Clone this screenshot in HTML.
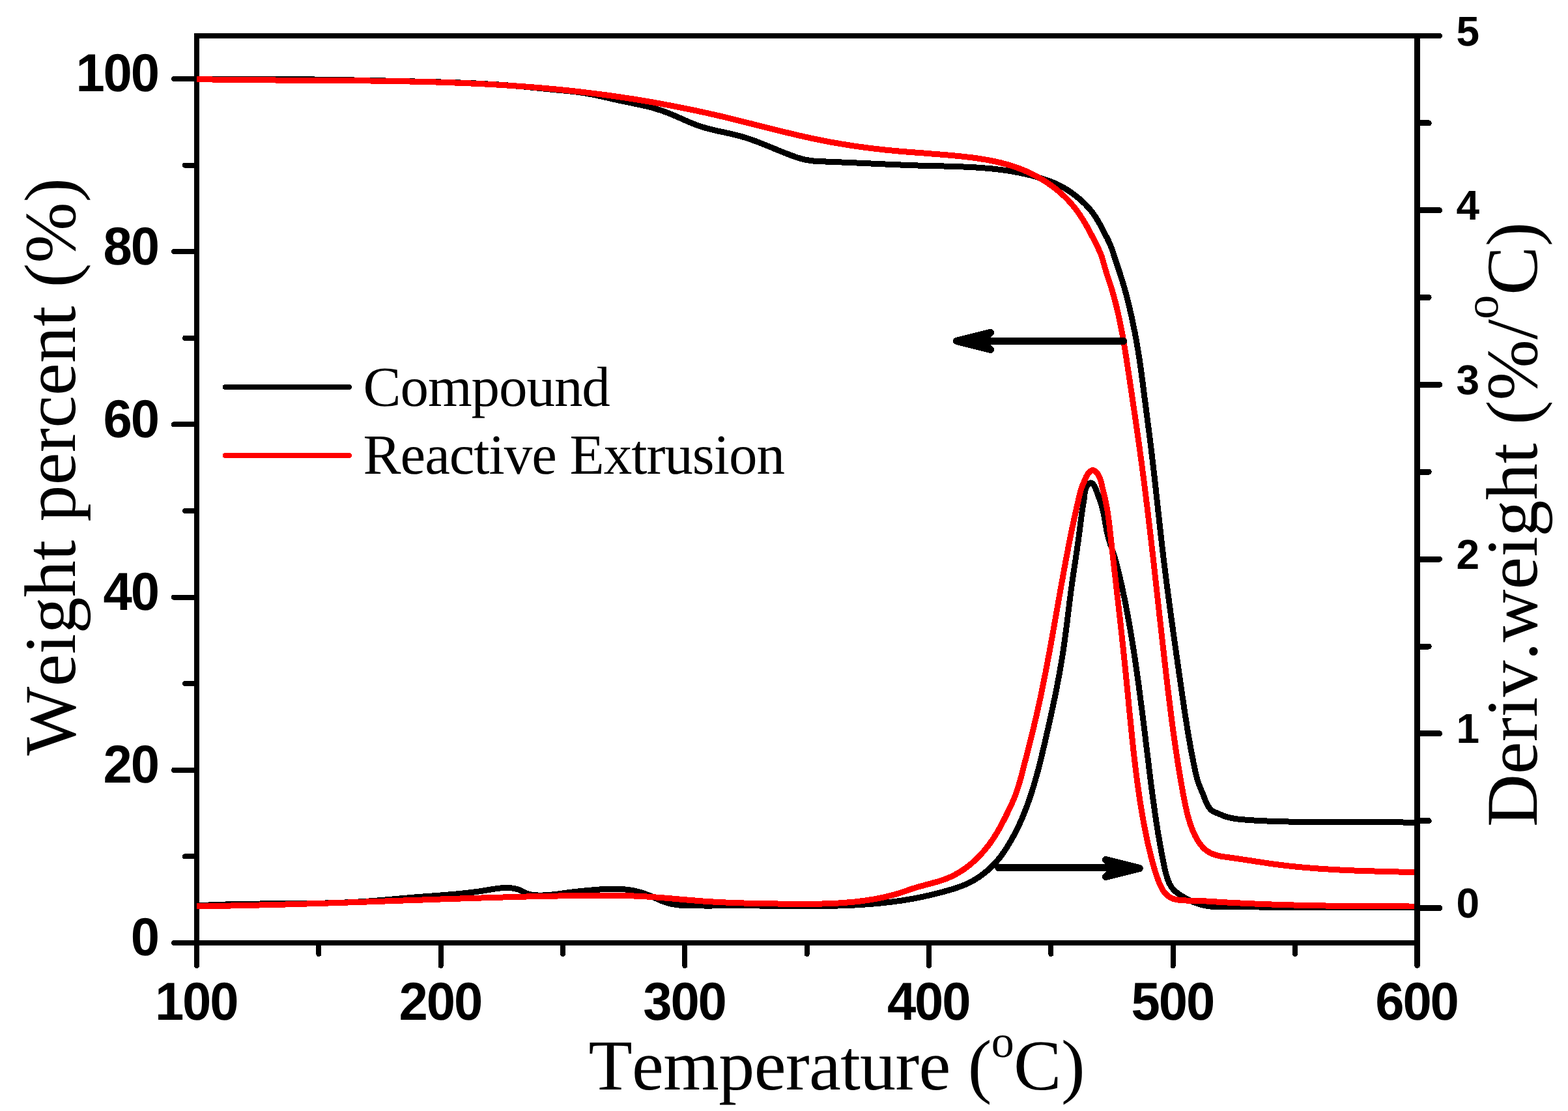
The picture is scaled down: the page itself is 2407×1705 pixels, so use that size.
<!DOCTYPE html>
<html lang="en"><head><meta charset="utf-8"><title>TGA / DTG curves</title>
<style>html,body{margin:0;padding:0;background:#fff}body{width:2407px;height:1705px;overflow:hidden}svg{display:block}text{font-kerning:none;font-variant-ligatures:none;text-rendering:geometricPrecision}.tk{font-family:"Liberation Sans",sans-serif;font-weight:bold;fill:#000}.ti{font-family:"Liberation Serif",serif;fill:#000}</style></head><body>
<svg width="2407" height="1705" viewBox="0 0 2407 1705">
<rect width="2407" height="1705" fill="#fff"/>
<g stroke="#000" stroke-width="8.0" stroke-linecap="round" fill="none" shape-rendering="crispEdges">
<path stroke-linecap="butt" d="M298.0,55.0 H2180.0"/>
<path stroke-linecap="butt" d="M298.0,1447.0 H2180.0"/>
<path stroke-linecap="butt" d="M302.0,55.0 V1447.0"/>
<path d="M302.0,1447.0 V1482.0"/>
<path d="M489.3,1447.0 V1464.0"/>
<path d="M676.7,1447.0 V1482.0"/>
<path d="M864.0,1447.0 V1464.0"/>
<path d="M1051.3,1447.0 V1482.0"/>
<path d="M1238.7,1447.0 V1464.0"/>
<path d="M1426.0,1447.0 V1482.0"/>
<path d="M1613.3,1447.0 V1464.0"/>
<path d="M1800.6,1447.0 V1482.0"/>
<path d="M1988.0,1447.0 V1464.0"/>
<path d="M302.0,1447.0 H267.0"/>
<path d="M302.0,1314.4 H284.0"/>
<path d="M302.0,1181.8 H267.0"/>
<path d="M302.0,1049.2 H284.0"/>
<path d="M302.0,916.6 H267.0"/>
<path d="M302.0,784.0 H284.0"/>
<path d="M302.0,651.4 H267.0"/>
<path d="M302.0,518.8 H284.0"/>
<path d="M302.0,386.2 H267.0"/>
<path d="M302.0,253.6 H284.0"/>
<path d="M302.0,121.0 H267.0"/>
</g>
<g stroke="#000" stroke-width="9.0" stroke-linecap="round" fill="none" shape-rendering="crispEdges">
<path stroke-linecap="butt" d="M2175.5,51.0 V1447.0"/>
<path d="M2175.5,1447.0 V1481.5"/>
<path d="M2175.5,1393.5 H2209.6"/>
<path d="M2175.5,1259.7 H2193.2"/>
<path d="M2175.5,1125.8 H2209.6"/>
<path d="M2175.5,992.0 H2193.2"/>
<path d="M2175.5,858.1 H2209.6"/>
<path d="M2175.5,724.2 H2193.2"/>
<path d="M2175.5,590.4 H2209.6"/>
<path d="M2175.5,456.5 H2193.2"/>
<path d="M2175.5,322.7 H2209.6"/>
<path d="M2175.5,188.8 H2193.2"/>
<path stroke-width="8.0" d="M2175.5,55.0 H2210.1"/>
</g>
<clipPath id="clip"><rect x="302.0" y="55.0" width="1869.0" height="1392.0"/></clipPath>
<g clip-path="url(#clip)" fill="none" stroke-width="9.0" stroke-linejoin="round" stroke-linecap="butt" shape-rendering="crispEdges">
<path stroke="#000" d="M302.0,121.5C306.0,121.5 310.1,121.4 314.1,121.4C318.1,121.3 322.1,121.3 326.2,121.3C330.2,121.3 334.2,121.2 338.3,121.2C342.3,121.2 346.3,121.2 350.4,121.2C354.4,121.1 358.4,121.1 362.4,121.1C366.5,121.1 370.5,121.1 374.5,121.1C378.6,121.1 382.6,121.1 386.6,121.2C390.6,121.2 394.7,121.2 398.7,121.2C402.7,121.2 406.8,121.2 410.8,121.2C414.8,121.3 418.8,121.3 422.9,121.3C426.9,121.4 430.9,121.4 434.9,121.4C439.0,121.5 443.0,121.5 447.0,121.5C451.1,121.6 455.1,121.6 459.1,121.7C463.1,121.7 467.2,121.8 471.2,121.8C475.2,121.9 479.3,121.9 483.3,122.0C487.3,122.0 491.3,122.1 495.4,122.1C499.4,122.2 503.4,122.3 507.5,122.3C511.5,122.4 515.5,122.5 519.5,122.5C523.6,122.6 527.6,122.7 531.6,122.7C535.6,122.8 539.7,122.9 543.7,123.0C547.7,123.1 551.8,123.1 555.8,123.2C559.8,123.3 563.8,123.4 567.9,123.5C571.9,123.5 575.9,123.6 579.9,123.7C584.0,123.8 588.0,123.9 592.0,124.0C596.1,124.1 600.1,124.2 604.1,124.2C608.1,124.3 612.2,124.4 616.2,124.5C620.2,124.6 624.2,124.7 628.3,124.8C632.3,124.9 636.3,125.0 640.4,125.1C644.4,125.2 648.4,125.3 652.5,125.4C656.5,125.5 660.5,125.6 664.5,125.7C668.6,125.8 672.6,125.9 676.6,126.0C680.6,126.2 684.7,126.3 688.7,126.4C692.7,126.5 696.8,126.7 700.8,126.8C704.8,126.9 708.8,127.1 712.9,127.2C716.9,127.4 720.9,127.6 724.9,127.7C729.0,127.9 733.0,128.1 737.0,128.3C741.0,128.5 745.0,128.7 749.1,129.0C753.1,129.2 757.1,129.4 761.1,129.7C765.1,129.9 769.2,130.2 773.2,130.5C777.2,130.8 781.2,131.1 785.2,131.4C789.2,131.7 793.3,132.1 797.3,132.4C801.3,132.8 805.3,133.1 809.3,133.5C813.3,133.9 817.3,134.3 821.3,134.7C825.3,135.1 829.4,135.5 833.4,135.9C837.4,136.3 841.4,136.7 845.4,137.1C849.4,137.5 853.4,137.9 857.4,138.3C861.5,138.6 865.5,139.0 869.5,139.4C873.5,139.8 877.5,140.2 881.5,140.7C885.5,141.2 889.5,141.7 893.5,142.3C897.5,142.9 901.4,143.5 905.4,144.3C909.3,145.0 913.3,145.8 917.2,146.7C921.2,147.5 925.1,148.4 929.0,149.3C932.9,150.2 936.9,151.1 940.8,152.0C944.7,152.9 948.7,153.8 952.6,154.7C956.6,155.5 960.5,156.3 964.5,157.1C968.4,157.9 972.4,158.7 976.3,159.5C980.3,160.3 984.2,161.2 988.1,162.1C992.1,163.0 996.0,163.9 999.9,164.9C1003.7,166.0 1007.6,167.1 1011.4,168.4C1015.3,169.6 1019.1,170.9 1022.9,172.4C1026.6,173.8 1030.4,175.3 1034.1,176.9C1037.8,178.5 1041.5,180.1 1045.1,181.7C1048.8,183.4 1052.5,185.0 1056.2,186.6C1059.9,188.2 1063.6,189.7 1067.4,191.2C1071.2,192.6 1075.0,193.9 1078.8,195.1C1082.7,196.3 1086.6,197.4 1090.5,198.3C1094.4,199.3 1098.3,200.2 1102.2,201.1C1106.2,202.0 1110.1,202.8 1114.1,203.6C1118.0,204.5 1121.9,205.3 1125.8,206.3C1129.8,207.2 1133.7,208.2 1137.6,209.3C1141.4,210.4 1145.3,211.6 1149.1,212.9C1152.9,214.2 1156.7,215.5 1160.5,216.9C1164.3,218.3 1168.0,219.8 1171.8,221.3C1175.5,222.8 1179.2,224.3 1183.0,225.8C1184.6,226.5 1186.2,227.2 1187.8,227.8C1189.9,228.7 1192.0,229.6 1194.1,230.4C1197.4,231.8 1200.7,233.1 1204.1,234.5C1206.8,235.5 1209.5,236.6 1212.3,237.6C1213.7,238.2 1215.2,238.7 1216.7,239.3C1218.0,239.7 1219.3,240.2 1220.6,240.7C1223.1,241.5 1225.6,242.4 1228.2,243.1C1231.3,244.0 1234.4,244.8 1237.5,245.4C1241.1,246.1 1244.8,246.6 1248.5,247.0C1249.6,247.1 1250.7,247.2 1251.9,247.3C1253.7,247.4 1255.5,247.5 1257.3,247.6C1259.6,247.7 1261.8,247.8 1264.0,247.9C1268.0,248.0 1272.0,248.2 1276.1,248.4C1280.1,248.5 1284.2,248.7 1288.2,248.9C1289.3,248.9 1290.5,249.0 1291.6,249.0C1294.5,249.1 1297.4,249.3 1300.3,249.4C1301.9,249.5 1303.6,249.5 1305.2,249.6C1307.6,249.7 1310.0,249.8 1312.4,249.9C1314.5,250.0 1316.6,250.1 1318.8,250.2C1320.6,250.3 1322.5,250.4 1324.4,250.5C1328.4,250.7 1332.5,250.8 1336.5,251.0C1340.5,251.2 1344.5,251.4 1348.5,251.6C1352.6,251.7 1356.6,251.9 1360.6,252.1C1364.6,252.3 1368.6,252.4 1372.7,252.6C1376.7,252.8 1380.7,252.9 1384.7,253.1C1388.7,253.2 1392.8,253.4 1396.8,253.5C1400.8,253.7 1404.8,253.8 1408.8,254.0C1412.9,254.1 1416.9,254.2 1420.9,254.3C1425.0,254.4 1429.0,254.5 1433.0,254.6C1437.0,254.7 1441.1,254.8 1445.1,254.9C1449.1,255.0 1453.2,255.1 1457.2,255.2C1461.2,255.4 1465.3,255.5 1469.3,255.6C1473.3,255.8 1477.4,255.9 1481.4,256.1C1485.4,256.3 1489.4,256.5 1493.5,256.7C1497.5,256.9 1501.5,257.2 1505.5,257.5C1509.6,257.8 1513.6,258.1 1517.6,258.5C1521.6,258.8 1525.6,259.2 1529.6,259.7C1533.6,260.2 1537.6,260.7 1541.6,261.2C1545.6,261.8 1549.6,262.4 1553.5,263.1C1557.5,263.7 1561.4,264.5 1565.4,265.3C1569.3,266.1 1573.3,266.9 1577.2,267.8C1579.1,268.3 1581.0,268.8 1582.9,269.2C1584.9,269.8 1586.9,270.3 1588.9,270.8C1591.9,271.7 1594.9,272.5 1597.9,273.5C1600.3,274.2 1602.8,275.0 1605.3,275.9C1606.6,276.3 1607.9,276.8 1609.1,277.2C1610.3,277.6 1611.4,278.1 1612.6,278.5C1614.4,279.2 1616.3,280.0 1618.1,280.7C1619.8,281.4 1621.4,282.2 1623.1,283.0C1624.3,283.5 1625.6,284.1 1626.8,284.8C1629.1,286.0 1631.5,287.2 1633.8,288.6C1636.5,290.2 1639.3,291.9 1641.9,293.8C1644.3,295.4 1646.7,297.1 1649.1,298.9C1650.6,300.1 1652.1,301.2 1653.6,302.4C1654.4,303.1 1655.2,303.8 1656.0,304.4C1657.6,305.8 1659.2,307.2 1660.7,308.6C1662.3,310.0 1663.9,311.5 1665.4,313.0C1666.6,314.2 1667.7,315.4 1668.9,316.6C1669.6,317.4 1670.4,318.2 1671.2,319.1C1672.1,320.2 1673.1,321.3 1674.1,322.5C1675.4,324.1 1676.7,325.8 1678.0,327.5C1680.6,331.1 1683.0,334.8 1685.2,338.6C1687.3,342.1 1689.2,345.6 1691.1,349.2C1693.0,352.8 1694.9,356.4 1696.7,360.0C1698.6,363.5 1700.4,367.1 1702.1,370.8C1703.9,374.4 1705.4,378.1 1706.8,381.9C1708.1,385.7 1709.3,389.6 1710.5,393.4C1711.8,397.2 1713.0,401.0 1714.3,404.9C1715.6,408.7 1716.8,412.5 1718.1,416.3C1719.3,420.2 1720.6,424.0 1721.8,427.8C1723.0,431.7 1724.2,435.5 1725.3,439.4C1726.4,443.3 1727.5,447.1 1728.6,451.0C1729.6,454.9 1730.6,458.8 1731.6,462.7C1732.6,466.6 1733.5,470.6 1734.4,474.5C1735.3,478.4 1736.2,482.3 1737.1,486.3C1738.0,490.2 1738.8,494.2 1739.6,498.1C1740.4,502.0 1741.2,506.0 1742.0,509.9C1742.8,513.9 1743.5,517.9 1744.2,521.8C1744.9,525.8 1745.6,529.7 1746.3,533.7C1747.0,537.7 1747.6,541.7 1748.2,545.6C1748.9,549.6 1749.5,553.6 1750.0,557.6C1750.6,561.6 1751.2,565.6 1751.7,569.5C1752.3,573.5 1752.8,577.5 1753.3,581.5C1753.9,585.5 1754.4,589.5 1754.9,593.5C1755.4,597.5 1755.9,601.5 1756.4,605.5C1756.9,609.5 1757.4,613.5 1758.0,617.5C1758.5,621.5 1759.0,625.5 1759.5,629.5C1760.0,633.5 1760.6,637.5 1761.1,641.5C1761.6,645.5 1762.1,649.5 1762.6,653.5C1763.2,657.5 1763.7,661.4 1764.2,665.4C1764.7,669.4 1765.2,673.4 1765.7,677.4C1766.2,681.4 1766.7,685.4 1767.2,689.4C1767.7,693.4 1768.1,697.4 1768.6,701.4C1769.1,705.4 1769.6,709.4 1770.0,713.4C1770.5,717.4 1770.9,721.4 1771.4,725.4C1771.9,729.4 1772.3,733.4 1772.8,737.4C1773.2,741.4 1773.6,745.4 1774.1,749.4C1774.5,753.4 1775.0,757.5 1775.4,761.5C1775.8,765.5 1776.3,769.5 1776.7,773.5C1777.2,777.5 1777.6,781.5 1778.0,785.5C1778.5,789.5 1778.9,793.5 1779.4,797.5C1779.8,801.5 1780.2,805.5 1780.7,809.5C1781.1,813.5 1781.6,817.5 1782.0,821.5C1782.5,825.5 1782.9,829.5 1783.4,833.5C1783.9,837.5 1784.3,841.5 1784.8,845.5C1785.3,849.5 1785.7,853.5 1786.2,857.5C1786.7,861.5 1787.2,865.5 1787.7,869.5C1788.2,873.5 1788.7,877.5 1789.2,881.5C1789.7,885.5 1790.2,889.5 1790.7,893.5C1791.2,897.5 1791.7,901.5 1792.3,905.5C1792.8,909.5 1793.3,913.5 1793.9,917.5C1794.4,921.5 1794.9,925.5 1795.5,929.5C1796.0,933.5 1796.5,937.5 1797.1,941.5C1797.6,945.5 1798.2,949.5 1798.7,953.4C1799.3,957.4 1799.8,961.4 1800.4,965.4C1800.9,969.4 1801.5,973.4 1802.1,977.4C1802.6,981.4 1803.2,985.4 1803.8,989.4C1804.3,993.4 1804.9,997.3 1805.5,1001.3C1806.0,1005.3 1806.6,1009.3 1807.2,1013.3C1807.7,1017.3 1808.3,1021.3 1808.9,1025.3C1809.4,1029.2 1810.0,1033.2 1810.6,1037.2C1811.2,1041.2 1811.7,1045.2 1812.3,1049.2C1812.9,1053.1 1813.5,1057.1 1814.0,1061.1C1814.6,1065.1 1815.2,1069.1 1815.8,1073.0C1816.4,1077.0 1816.9,1081.0 1817.5,1085.0C1818.1,1089.0 1818.7,1092.9 1819.3,1096.9C1820.0,1100.9 1820.6,1104.9 1821.2,1108.8C1821.8,1112.8 1822.5,1116.8 1823.1,1120.8C1823.8,1124.7 1824.4,1128.7 1825.1,1132.7C1825.8,1136.6 1826.5,1140.6 1827.2,1144.6C1827.9,1148.5 1828.6,1152.5 1829.4,1156.5C1830.1,1160.5 1830.9,1164.4 1831.7,1168.4C1832.3,1171.7 1833.0,1174.9 1833.7,1178.2C1834.2,1180.6 1834.7,1183.1 1835.3,1185.6C1835.7,1187.7 1836.2,1189.8 1836.8,1191.8C1837.5,1194.6 1838.3,1197.4 1839.2,1200.1C1839.5,1201.0 1839.8,1202.0 1840.2,1203.0C1840.7,1204.3 1841.2,1205.7 1841.8,1207.1C1842.5,1208.9 1843.3,1210.8 1844.1,1212.7C1844.8,1214.3 1845.5,1215.9 1846.2,1217.5C1846.6,1218.7 1847.1,1219.8 1847.5,1220.9C1847.9,1221.9 1848.3,1222.9 1848.7,1223.9C1849.1,1224.9 1849.4,1225.9 1849.8,1226.9C1850.2,1227.9 1850.6,1228.9 1851.0,1229.8C1851.4,1230.8 1851.8,1231.8 1852.2,1232.7C1852.7,1233.7 1853.2,1234.6 1853.7,1235.6C1854.2,1236.5 1854.7,1237.4 1855.3,1238.2C1856.0,1239.3 1856.7,1240.3 1857.5,1241.2C1858.3,1242.1 1859.2,1243.0 1860.1,1243.7C1860.9,1244.4 1861.8,1245.0 1862.7,1245.5C1863.6,1246.0 1864.5,1246.5 1865.5,1246.8C1866.7,1247.3 1868.0,1247.7 1869.3,1248.2C1870.3,1248.6 1871.3,1249.1 1872.3,1249.5C1873.4,1249.9 1874.4,1250.4 1875.4,1250.8C1876.4,1251.3 1877.4,1251.7 1878.5,1252.1C1879.5,1252.5 1880.5,1252.8 1881.6,1253.2C1882.6,1253.5 1883.6,1253.8 1884.7,1254.1C1885.7,1254.4 1886.8,1254.7 1887.9,1254.9C1890.2,1255.5 1892.5,1255.9 1894.9,1256.3C1896.3,1256.5 1897.7,1256.7 1899.2,1256.9C1901.8,1257.2 1904.5,1257.5 1907.2,1257.7C1908.4,1257.8 1909.5,1257.9 1910.7,1258.0C1914.2,1258.3 1917.7,1258.5 1921.2,1258.8C1925.3,1259.0 1929.3,1259.3 1933.3,1259.5C1937.3,1259.7 1941.4,1259.9 1945.4,1260.0C1949.3,1260.2 1953.1,1260.4 1957.0,1260.5C1961.2,1260.6 1965.4,1260.7 1969.6,1260.9C1973.6,1260.9 1977.6,1261.0 1981.6,1261.1C1985.7,1261.2 1989.7,1261.2 1993.7,1261.3C1997.8,1261.3 2001.8,1261.4 2005.8,1261.4C2009.8,1261.4 2013.9,1261.4 2017.9,1261.4C2021.9,1261.4 2026.0,1261.4 2030.0,1261.4C2034.0,1261.4 2038.0,1261.4 2042.1,1261.4C2046.1,1261.4 2050.1,1261.4 2054.2,1261.4C2058.2,1261.3 2062.2,1261.3 2066.2,1261.3C2070.3,1261.3 2074.3,1261.3 2078.3,1261.3C2082.4,1261.3 2086.4,1261.3 2090.4,1261.3C2094.4,1261.3 2098.5,1261.3 2102.5,1261.3C2106.5,1261.3 2110.6,1261.3 2114.6,1261.3C2118.6,1261.4 2122.6,1261.4 2126.7,1261.5C2130.7,1261.5 2134.7,1261.6 2138.8,1261.7C2142.8,1261.7 2146.8,1261.8 2150.8,1261.9C2154.9,1262.0 2158.9,1262.2 2162.9,1262.3C2166.9,1262.5 2171.0,1262.6 2175.0,1262.8"/>
<path stroke="#000" d="M302.0,1390.0C306.0,1389.7 310.0,1389.5 314.1,1389.3C318.1,1389.1 322.1,1388.9 326.1,1388.7C330.2,1388.5 334.2,1388.4 338.2,1388.2C342.2,1388.1 346.3,1388.0 350.3,1387.9C354.3,1387.8 358.4,1387.7 362.4,1387.6C366.4,1387.5 370.4,1387.4 374.5,1387.3C378.5,1387.3 382.5,1387.2 386.6,1387.2C390.6,1387.1 394.6,1387.1 398.7,1387.0C402.7,1387.0 406.7,1387.0 410.7,1386.9C414.8,1386.9 418.8,1386.9 422.8,1386.8C426.9,1386.8 430.9,1386.8 434.9,1386.8C439.0,1386.7 443.0,1386.7 447.0,1386.7C451.1,1386.7 455.1,1386.6 459.1,1386.6C463.2,1386.6 467.2,1386.5 471.2,1386.5C475.3,1386.4 479.3,1386.4 483.3,1386.3C487.3,1386.2 491.4,1386.2 495.4,1386.1C499.4,1386.0 503.5,1385.9 507.5,1385.8C511.5,1385.7 515.5,1385.5 519.6,1385.4C523.6,1385.3 527.6,1385.1 531.7,1384.9C535.7,1384.8 539.7,1384.6 543.7,1384.4C547.7,1384.2 551.8,1383.9 555.8,1383.7C559.8,1383.4 563.8,1383.2 567.9,1382.9C571.9,1382.6 575.9,1382.3 579.9,1381.9C583.9,1381.6 587.9,1381.3 592.0,1380.9C596.0,1380.6 600.0,1380.2 604.0,1379.9C608.0,1379.5 612.0,1379.1 616.0,1378.8C620.1,1378.4 624.1,1378.1 628.1,1377.7C632.1,1377.4 636.1,1377.0 640.1,1376.7C644.2,1376.4 648.2,1376.1 652.2,1375.8C656.2,1375.5 660.2,1375.2 664.2,1374.9C668.3,1374.6 672.3,1374.3 676.3,1374.0C680.3,1373.7 684.3,1373.4 688.3,1373.0C692.3,1372.7 696.3,1372.4 700.4,1372.0C704.4,1371.6 708.4,1371.2 712.4,1370.8C716.4,1370.4 720.4,1369.9 724.4,1369.4C728.4,1368.9 732.4,1368.4 736.4,1367.8C739.2,1367.4 742.0,1367.0 744.8,1366.5C746.0,1366.3 747.2,1366.1 748.4,1365.9C751.5,1365.4 754.7,1364.8 757.9,1364.3C760.0,1364.0 762.2,1363.7 764.4,1363.4C766.6,1363.2 768.8,1362.9 770.9,1362.8C772.4,1362.7 773.9,1362.6 775.4,1362.6C776.9,1362.5 778.3,1362.5 779.8,1362.6C781.2,1362.6 782.7,1362.7 784.1,1362.8C785.6,1362.9 787.1,1363.1 788.6,1363.4C790.1,1363.6 791.6,1363.9 793.0,1364.3C794.1,1364.6 795.2,1364.9 796.2,1365.3C798.0,1366.0 799.7,1366.8 801.4,1367.6C802.8,1368.3 804.2,1369.0 805.5,1369.7C806.9,1370.4 808.3,1371.0 809.7,1371.6C811.2,1372.1 812.6,1372.5 814.1,1372.8C815.6,1373.2 817.1,1373.4 818.7,1373.6C820.2,1373.7 821.7,1373.8 823.2,1373.9C825.4,1374.0 827.6,1374.1 829.8,1374.1C832.0,1374.1 834.2,1374.0 836.4,1373.9C837.9,1373.8 839.4,1373.7 840.9,1373.6C843.7,1373.4 846.6,1373.1 849.5,1372.8C851.4,1372.6 853.2,1372.4 855.1,1372.1C856.1,1372.0 857.2,1371.9 858.3,1371.7C861.2,1371.3 864.1,1370.9 867.0,1370.5C869.9,1370.1 872.8,1369.7 875.7,1369.3C876.8,1369.2 877.9,1369.1 879.1,1368.9C883.0,1368.4 887.0,1368.0 891.0,1367.6C895.0,1367.2 899.0,1366.8 903.0,1366.5C904.1,1366.4 905.1,1366.3 906.1,1366.2C909.1,1365.9 912.1,1365.7 915.1,1365.4C919.1,1365.1 923.2,1364.8 927.2,1364.6C931.1,1364.4 935.0,1364.2 939.0,1364.2C942.6,1364.1 946.3,1364.1 949.9,1364.3C953.2,1364.4 956.5,1364.6 959.8,1365.0C961.0,1365.1 962.2,1365.2 963.4,1365.4C965.4,1365.6 967.5,1365.9 969.5,1366.3C971.4,1366.6 973.4,1367.0 975.3,1367.4C976.6,1367.7 977.8,1368.0 979.1,1368.3C981.7,1369.0 984.4,1369.8 987.0,1370.6C989.9,1371.6 992.8,1372.6 995.7,1373.8C998.3,1374.8 1000.8,1375.9 1003.4,1377.1C1005.4,1378.0 1007.4,1378.9 1009.4,1379.9C1011.9,1381.0 1014.3,1382.0 1016.8,1383.0C1018.1,1383.5 1019.3,1384.0 1020.6,1384.4C1022.3,1385.0 1024.1,1385.5 1025.9,1386.0C1027.3,1386.4 1028.7,1386.7 1030.1,1387.1C1031.1,1387.3 1032.2,1387.5 1033.2,1387.7C1034.4,1387.9 1035.7,1388.2 1037.0,1388.3C1038.2,1388.5 1039.4,1388.7 1040.6,1388.8C1041.8,1389.0 1043.0,1389.1 1044.2,1389.2C1045.5,1389.3 1046.8,1389.4 1048.1,1389.5C1050.2,1389.6 1052.3,1389.7 1054.4,1389.7C1057.3,1389.8 1060.3,1389.8 1063.2,1389.9C1065.0,1389.9 1066.7,1389.9 1068.5,1389.9C1069.6,1389.9 1070.8,1389.9 1071.9,1389.9C1074.8,1389.9 1077.7,1390.0 1080.6,1390.0C1083.5,1390.0 1086.4,1390.0 1089.4,1390.0C1090.5,1390.0 1091.6,1390.0 1092.7,1390.0C1096.7,1389.9 1100.7,1389.9 1104.7,1389.9C1108.7,1389.9 1112.7,1389.9 1116.8,1389.9C1119.2,1389.9 1121.7,1389.9 1124.2,1389.9C1125.7,1389.9 1127.3,1389.9 1128.8,1389.9C1132.8,1389.8 1136.8,1389.8 1140.8,1389.9C1144.9,1389.9 1148.9,1389.9 1152.9,1389.9C1156.9,1389.9 1161.0,1390.0 1165.0,1390.0C1169.0,1390.0 1173.1,1390.1 1177.1,1390.1C1181.1,1390.2 1185.2,1390.2 1189.2,1390.3C1193.2,1390.3 1197.3,1390.3 1201.3,1390.4C1205.4,1390.4 1209.4,1390.5 1213.4,1390.5C1217.5,1390.5 1221.5,1390.6 1225.6,1390.6C1229.6,1390.6 1233.6,1390.6 1237.7,1390.6C1241.7,1390.6 1245.8,1390.6 1249.8,1390.6C1253.8,1390.6 1257.9,1390.5 1261.9,1390.5C1266.0,1390.4 1270.0,1390.4 1274.0,1390.3C1278.1,1390.2 1282.1,1390.1 1286.1,1390.0C1290.2,1389.9 1294.2,1389.8 1298.2,1389.6C1302.3,1389.5 1306.3,1389.3 1310.3,1389.1C1314.3,1388.9 1318.4,1388.6 1322.4,1388.4C1326.4,1388.1 1330.4,1387.8 1334.4,1387.5C1338.4,1387.2 1342.4,1386.9 1346.4,1386.5C1350.4,1386.1 1354.4,1385.7 1358.4,1385.3C1362.4,1384.9 1366.4,1384.4 1370.4,1383.9C1374.4,1383.4 1378.4,1382.8 1382.4,1382.3C1386.3,1381.7 1390.3,1381.0 1394.3,1380.4C1398.2,1379.7 1402.2,1379.0 1406.2,1378.3C1410.1,1377.5 1414.1,1376.7 1418.0,1375.9C1422.0,1375.0 1425.9,1374.2 1429.8,1373.2C1433.1,1372.5 1436.4,1371.6 1439.6,1370.8C1442.6,1370.0 1445.5,1369.2 1448.5,1368.4C1450.1,1368.0 1451.7,1367.6 1453.3,1367.1C1454.5,1366.7 1455.8,1366.4 1457.0,1366.0C1459.7,1365.3 1462.3,1364.5 1464.9,1363.7C1468.2,1362.6 1471.5,1361.5 1474.7,1360.3C1477.6,1359.3 1480.4,1358.1 1483.2,1356.9C1484.6,1356.3 1486.0,1355.6 1487.4,1354.9C1489.0,1354.1 1490.5,1353.3 1492.0,1352.5C1494.0,1351.4 1496.0,1350.2 1498.0,1349.0C1499.1,1348.3 1500.3,1347.6 1501.4,1346.9C1503.6,1345.4 1505.9,1343.8 1508.0,1342.2C1510.9,1340.1 1513.6,1337.8 1516.3,1335.5C1518.8,1333.4 1521.2,1331.1 1523.5,1328.8C1524.4,1327.9 1525.3,1327.0 1526.1,1326.1C1527.5,1324.6 1528.9,1323.1 1530.2,1321.6C1531.5,1320.1 1532.8,1318.6 1534.0,1317.0C1534.8,1316.0 1535.6,1315.0 1536.4,1313.9C1538.0,1311.7 1539.6,1309.5 1541.2,1307.3C1541.9,1306.2 1542.6,1305.1 1543.3,1304.1C1544.7,1301.9 1546.1,1299.8 1547.4,1297.6C1549.1,1294.8 1550.8,1292.0 1552.4,1289.2C1554.0,1286.3 1555.6,1283.4 1557.1,1280.5C1557.9,1279.0 1558.7,1277.5 1559.5,1275.9C1560.2,1274.5 1560.9,1273.2 1561.6,1271.8C1562.6,1269.6 1563.7,1267.3 1564.8,1265.0C1566.5,1261.4 1568.1,1257.7 1569.7,1254.0C1571.2,1250.3 1572.8,1246.6 1574.2,1242.8C1575.7,1239.1 1577.1,1235.3 1578.4,1231.5C1579.8,1227.7 1581.1,1223.9 1582.4,1220.1C1583.6,1216.2 1584.8,1212.4 1586.0,1208.6C1587.2,1204.7 1588.3,1200.8 1589.4,1197.0C1590.5,1193.1 1591.6,1189.2 1592.7,1185.3C1593.7,1181.4 1594.7,1177.5 1595.7,1173.6C1596.7,1169.7 1597.7,1165.8 1598.6,1161.9C1599.6,1157.9 1600.5,1154.0 1601.4,1150.1C1602.4,1146.1 1603.3,1142.2 1604.2,1138.3C1605.1,1134.4 1606.0,1130.4 1606.9,1126.5C1607.8,1122.6 1608.7,1118.6 1609.6,1114.7C1610.4,1110.8 1611.3,1106.8 1612.2,1102.9C1613.1,1099.0 1613.9,1095.0 1614.8,1091.1C1615.6,1087.2 1616.5,1083.2 1617.3,1079.3C1618.1,1075.3 1619.0,1071.4 1619.8,1067.5C1620.6,1063.5 1621.4,1059.6 1622.1,1055.6C1622.9,1051.7 1623.7,1047.7 1624.4,1043.8C1625.2,1039.8 1625.9,1035.9 1626.6,1031.9C1627.3,1027.9 1628.0,1024.0 1628.7,1020.0C1629.4,1016.0 1630.0,1012.1 1630.7,1008.1C1631.3,1004.1 1631.9,1000.1 1632.5,996.1C1633.1,992.2 1633.7,988.2 1634.2,984.2C1634.8,980.2 1635.3,976.2 1635.8,972.2C1636.4,968.2 1636.9,964.2 1637.4,960.2C1637.9,956.2 1638.4,952.2 1638.9,948.1C1639.4,944.1 1639.9,940.1 1640.4,936.1C1640.9,932.1 1641.3,928.1 1641.8,924.1C1642.4,920.1 1642.9,916.1 1643.4,912.1C1643.9,908.1 1644.4,904.1 1645.0,900.1C1645.5,896.1 1646.1,892.2 1646.7,888.2C1647.2,884.2 1647.8,880.2 1648.4,876.2C1649.0,872.2 1649.6,868.3 1650.2,864.3C1650.8,860.3 1651.4,856.3 1652.0,852.3C1652.6,848.4 1653.2,844.4 1653.7,840.4C1654.3,836.4 1654.9,832.4 1655.4,828.4C1656.0,824.4 1656.5,820.4 1657.0,816.4C1657.5,812.4 1658.0,808.4 1658.5,804.4C1659.0,800.4 1659.5,796.4 1660.1,792.4C1660.6,788.4 1661.2,784.4 1661.8,780.4C1662.1,778.2 1662.4,776.1 1662.8,773.9C1663.0,772.5 1663.3,771.2 1663.5,769.8C1663.7,768.4 1663.9,767.1 1664.1,765.7C1664.3,764.3 1664.5,763.0 1664.6,761.6C1664.8,760.3 1664.9,759.1 1665.0,757.8C1665.2,756.5 1665.3,755.2 1665.6,753.9C1665.9,752.5 1666.3,751.2 1666.8,749.8C1667.4,748.4 1668.1,746.9 1668.9,745.6C1669.8,744.2 1670.7,743.1 1671.7,742.2C1672.6,741.4 1673.5,740.9 1674.5,740.9C1675.4,740.9 1676.3,741.4 1677.1,742.2C1678.0,743.0 1678.8,744.1 1679.5,745.3C1680.2,746.5 1680.9,747.9 1681.5,749.2C1682.2,750.7 1682.8,752.2 1683.3,753.6C1683.9,755.0 1684.4,756.3 1684.8,757.6C1685.3,759.0 1685.7,760.3 1686.2,761.6C1686.6,762.9 1687.1,764.2 1687.6,765.6C1688.1,766.9 1688.6,768.3 1689.1,769.7C1689.6,771.1 1690.0,772.4 1690.5,773.8C1690.9,775.3 1691.3,776.7 1691.7,778.1C1692.8,782.0 1693.7,786.0 1694.5,789.9C1695.2,793.9 1695.9,797.9 1696.6,801.9C1697.3,805.9 1697.9,809.8 1698.7,813.8C1699.5,817.8 1700.4,821.7 1701.5,825.5C1702.6,829.4 1703.8,833.2 1705.1,837.1C1706.4,840.9 1707.8,844.7 1709.0,848.5C1710.2,852.4 1711.4,856.2 1712.5,860.1C1713.6,864.0 1714.6,867.9 1715.6,871.8C1716.6,875.7 1717.6,879.6 1718.5,883.5C1719.4,887.4 1720.3,891.3 1721.2,895.3C1722.1,899.2 1722.9,903.1 1723.8,907.1C1724.6,911.0 1725.4,915.0 1726.2,918.9C1727.0,922.9 1727.8,926.8 1728.6,930.8C1729.3,934.7 1730.1,938.7 1730.8,942.7C1731.6,946.6 1732.3,950.6 1733.0,954.6C1733.7,958.5 1734.4,962.5 1735.1,966.5C1735.7,970.4 1736.4,974.4 1737.1,978.4C1737.7,982.4 1738.4,986.3 1739.0,990.3C1739.6,994.3 1740.3,998.3 1740.9,1002.3C1741.5,1006.2 1742.1,1010.2 1742.7,1014.2C1743.3,1018.2 1743.8,1022.2 1744.4,1026.2C1745.0,1030.2 1745.6,1034.2 1746.1,1038.1C1746.7,1042.1 1747.2,1046.1 1747.8,1050.1C1748.3,1054.1 1748.8,1058.1 1749.4,1062.1C1749.9,1066.1 1750.4,1070.1 1750.9,1074.1C1751.5,1078.1 1752.0,1082.1 1752.5,1086.1C1753.0,1090.1 1753.5,1094.1 1754.0,1098.1C1754.5,1102.1 1755.0,1106.1 1755.5,1110.1C1756.0,1114.1 1756.5,1118.1 1757.0,1122.1C1757.5,1126.1 1758.0,1130.1 1758.5,1134.1C1758.9,1138.1 1759.4,1142.1 1759.9,1146.1C1760.4,1150.1 1760.9,1154.1 1761.4,1158.1C1761.9,1162.1 1762.4,1166.1 1762.9,1170.1C1763.3,1174.1 1763.8,1178.1 1764.3,1182.1C1764.8,1186.1 1765.3,1190.1 1765.8,1194.1C1766.3,1198.1 1766.8,1202.1 1767.3,1206.1C1767.9,1210.1 1768.4,1214.1 1768.9,1218.1C1769.4,1222.0 1770.0,1226.0 1770.5,1230.0C1771.1,1234.0 1771.6,1238.0 1772.2,1242.0C1772.7,1246.0 1773.3,1250.0 1773.9,1254.0C1774.5,1257.9 1775.1,1261.9 1775.7,1265.9C1776.4,1269.9 1777.0,1273.9 1777.6,1277.8C1778.3,1281.8 1779.0,1285.8 1779.7,1289.8C1780.1,1292.5 1780.6,1295.2 1781.1,1298.0C1781.3,1299.2 1781.6,1300.4 1781.8,1301.7C1782.1,1303.2 1782.4,1304.8 1782.7,1306.3C1783.1,1308.7 1783.6,1311.2 1784.0,1313.6C1784.6,1316.7 1785.3,1319.8 1785.9,1323.0C1786.2,1324.3 1786.4,1325.5 1786.7,1326.8C1787.0,1328.3 1787.3,1329.8 1787.6,1331.3C1788.0,1333.2 1788.5,1335.2 1789.0,1337.2C1789.6,1340.1 1790.4,1342.9 1791.3,1345.8C1791.6,1346.8 1791.9,1347.8 1792.3,1348.9C1792.7,1349.9 1793.0,1351.0 1793.5,1352.0C1794.2,1353.9 1795.0,1355.8 1796.0,1357.5C1796.8,1359.1 1797.7,1360.6 1798.7,1362.0C1799.7,1363.4 1800.9,1364.7 1802.1,1365.9C1803.1,1367.0 1804.2,1367.9 1805.3,1368.9C1806.9,1370.2 1808.6,1371.4 1810.3,1372.6C1811.8,1373.6 1813.4,1374.6 1815.0,1375.6C1816.6,1376.6 1818.2,1377.5 1819.8,1378.4C1821.4,1379.3 1823.0,1380.2 1824.7,1381.0C1826.3,1381.8 1828.0,1382.6 1829.7,1383.4C1831.3,1384.1 1833.0,1384.8 1834.6,1385.4C1836.3,1386.0 1837.9,1386.6 1839.6,1387.1C1841.3,1387.7 1842.9,1388.2 1844.6,1388.6C1846.0,1389.0 1847.3,1389.3 1848.7,1389.6C1849.7,1389.8 1850.7,1390.0 1851.7,1390.1C1852.8,1390.3 1853.9,1390.5 1854.9,1390.6C1856.8,1390.9 1858.7,1391.0 1860.6,1391.2C1861.6,1391.2 1862.6,1391.3 1863.6,1391.3C1865.7,1391.4 1867.7,1391.4 1869.7,1391.4C1870.7,1391.4 1871.7,1391.4 1872.8,1391.4C1876.8,1391.4 1880.9,1391.4 1884.9,1391.5C1889.0,1391.5 1893.0,1391.5 1897.0,1391.6C1901.0,1391.6 1905.1,1391.7 1909.1,1391.7C1913.1,1391.8 1917.1,1391.9 1921.1,1391.9C1925.1,1392.0 1929.2,1392.0 1933.2,1392.0C1937.2,1392.1 1941.2,1392.1 1945.3,1392.2C1949.3,1392.2 1953.3,1392.2 1957.3,1392.2C1961.4,1392.3 1965.4,1392.3 1969.4,1392.3C1973.5,1392.3 1977.5,1392.3 1981.5,1392.4C1985.6,1392.4 1989.6,1392.4 1993.6,1392.4C1997.7,1392.4 2001.7,1392.4 2005.7,1392.4C2009.8,1392.4 2013.8,1392.4 2017.9,1392.4C2021.9,1392.4 2025.9,1392.4 2030.0,1392.4C2034.0,1392.4 2038.1,1392.4 2042.1,1392.4C2046.1,1392.4 2050.2,1392.4 2054.2,1392.4C2058.3,1392.4 2062.3,1392.4 2066.3,1392.4C2070.4,1392.4 2074.4,1392.3 2078.4,1392.3C2082.5,1392.3 2086.5,1392.3 2090.5,1392.3C2094.6,1392.3 2098.6,1392.4 2102.6,1392.4C2106.7,1392.4 2110.7,1392.4 2114.7,1392.4C2118.8,1392.4 2122.8,1392.4 2126.8,1392.4C2130.8,1392.4 2134.9,1392.5 2138.9,1392.5C2142.9,1392.5 2146.9,1392.5 2150.9,1392.6C2155.0,1392.6 2159.0,1392.6 2163.0,1392.7C2167.0,1392.7 2171.0,1392.8 2175.0,1392.8"/>
<path stroke="#f00" d="M302.0,121.5C306.0,121.6 310.0,121.7 314.1,121.7C318.1,121.8 322.1,121.9 326.1,122.0C330.2,122.0 334.2,122.1 338.2,122.2C342.3,122.2 346.3,122.3 350.3,122.3C354.3,122.4 358.4,122.4 362.4,122.5C366.4,122.5 370.4,122.6 374.5,122.6C378.5,122.7 382.5,122.7 386.6,122.7C390.6,122.8 394.6,122.8 398.7,122.8C402.7,122.9 406.7,122.9 410.8,122.9C414.8,123.0 418.8,123.0 422.9,123.0C426.9,123.0 430.9,123.1 435.0,123.1C439.0,123.1 443.1,123.1 447.1,123.2C451.1,123.2 455.2,123.2 459.2,123.2C463.2,123.3 467.3,123.3 471.3,123.3C475.3,123.3 479.4,123.3 483.4,123.4C487.4,123.4 491.5,123.4 495.5,123.4C499.6,123.5 503.6,123.5 507.6,123.5C511.7,123.5 515.7,123.6 519.8,123.6C523.8,123.6 527.8,123.6 531.9,123.7C535.9,123.7 539.9,123.7 544.0,123.8C548.0,123.8 552.1,123.9 556.1,123.9C560.1,123.9 564.2,124.0 568.2,124.0C572.3,124.1 576.3,124.1 580.3,124.2C584.4,124.2 588.4,124.3 592.5,124.3C596.5,124.4 600.5,124.5 604.6,124.5C608.6,124.6 612.6,124.7 616.7,124.8C620.7,124.8 624.7,124.9 628.8,125.0C632.8,125.1 636.9,125.2 640.9,125.3C644.9,125.4 649.0,125.5 653.0,125.6C657.0,125.7 661.1,125.8 665.1,125.9C669.1,126.0 673.2,126.1 677.2,126.3C681.2,126.4 685.3,126.5 689.3,126.7C693.3,126.8 697.4,127.0 701.4,127.1C705.4,127.3 709.5,127.4 713.5,127.6C717.5,127.8 721.6,128.0 725.6,128.1C729.6,128.3 733.6,128.5 737.7,128.7C741.7,128.9 745.7,129.1 749.8,129.3C753.8,129.6 757.8,129.8 761.8,130.0C765.9,130.3 769.9,130.5 773.9,130.7C777.9,131.0 782.0,131.3 786.0,131.5C790.0,131.8 794.0,132.1 798.1,132.4C802.1,132.6 806.1,132.9 810.1,133.3C814.1,133.6 818.1,133.9 822.2,134.2C826.2,134.5 830.2,134.9 834.2,135.2C838.2,135.6 842.2,135.9 846.2,136.3C850.3,136.7 854.3,137.1 858.3,137.5C862.3,137.9 866.3,138.3 870.3,138.7C874.3,139.1 878.3,139.5 882.3,140.0C886.4,140.4 890.4,140.9 894.4,141.3C898.4,141.8 902.4,142.3 906.4,142.8C910.4,143.3 914.4,143.8 918.4,144.3C922.4,144.8 926.4,145.3 930.4,145.9C934.4,146.4 938.4,147.0 942.4,147.5C946.4,148.1 950.4,148.7 954.3,149.3C958.3,149.9 962.3,150.5 966.3,151.1C970.3,151.7 974.3,152.3 978.3,153.0C982.2,153.6 986.2,154.3 990.2,155.0C994.2,155.6 998.2,156.3 1002.1,157.0C1006.1,157.7 1010.1,158.4 1014.1,159.1C1018.0,159.9 1022.0,160.6 1026.0,161.4C1029.9,162.1 1033.9,162.9 1037.9,163.6C1041.8,164.4 1045.8,165.2 1049.7,166.0C1053.7,166.8 1057.6,167.6 1061.6,168.4C1065.5,169.3 1069.5,170.1 1073.4,170.9C1077.4,171.8 1081.3,172.7 1085.3,173.5C1089.2,174.4 1093.1,175.3 1097.1,176.2C1101.0,177.1 1104.9,178.0 1108.9,178.9C1112.8,179.9 1116.7,180.8 1120.6,181.8C1124.6,182.7 1128.5,183.7 1132.4,184.7C1136.3,185.6 1140.2,186.6 1144.1,187.6C1148.1,188.6 1152.0,189.5 1155.9,190.5C1159.8,191.5 1163.7,192.5 1167.6,193.5C1171.5,194.5 1175.4,195.5 1179.3,196.5C1183.3,197.4 1187.2,198.4 1191.1,199.4C1195.0,200.4 1198.9,201.3 1202.8,202.3C1206.8,203.2 1210.7,204.2 1214.6,205.1C1218.5,206.0 1222.4,207.0 1226.4,207.9C1230.3,208.8 1234.2,209.7 1238.2,210.5C1242.1,211.4 1246.1,212.3 1250.0,213.1C1253.9,213.9 1257.9,214.7 1261.9,215.5C1265.8,216.3 1269.8,217.1 1273.7,217.8C1277.7,218.5 1281.7,219.2 1285.7,219.9C1289.6,220.6 1293.6,221.3 1297.6,221.9C1301.6,222.6 1305.6,223.2 1309.6,223.8C1313.6,224.4 1317.6,224.9 1321.6,225.5C1325.6,226.0 1329.6,226.6 1333.6,227.1C1337.6,227.6 1341.6,228.1 1345.6,228.5C1349.6,229.0 1353.6,229.4 1357.6,229.9C1361.6,230.3 1365.7,230.7 1369.7,231.1C1373.7,231.5 1377.7,231.8 1381.7,232.2C1385.7,232.5 1389.7,232.9 1393.8,233.2C1397.8,233.5 1401.8,233.8 1405.8,234.1C1409.8,234.4 1413.8,234.7 1417.9,235.0C1421.9,235.3 1425.9,235.7 1429.9,236.0C1433.9,236.3 1438.0,236.6 1442.0,236.9C1446.0,237.2 1450.0,237.6 1454.0,237.9C1458.1,238.3 1462.1,238.6 1466.1,239.0C1470.1,239.4 1474.2,239.8 1478.2,240.2C1482.2,240.7 1486.2,241.1 1490.2,241.6C1494.2,242.1 1498.2,242.7 1502.2,243.3C1506.2,243.9 1510.2,244.5 1514.2,245.2C1518.2,245.9 1522.1,246.7 1526.1,247.5C1530.0,248.3 1533.9,249.2 1537.8,250.2C1541.7,251.2 1545.6,252.3 1549.5,253.4C1553.3,254.6 1557.1,255.8 1560.9,257.2C1564.7,258.5 1568.5,260.0 1572.2,261.5C1575.9,263.1 1579.6,264.8 1583.3,266.5C1585.3,267.5 1587.4,268.6 1589.4,269.6C1590.9,270.4 1592.5,271.3 1594.0,272.2C1595.4,272.9 1596.7,273.7 1598.1,274.5C1600.2,275.7 1602.4,277.0 1604.5,278.4C1607.8,280.5 1611.0,282.7 1614.2,285.0C1616.3,286.5 1618.4,288.1 1620.4,289.7C1621.6,290.7 1622.8,291.7 1624.1,292.7C1624.8,293.3 1625.6,294.0 1626.4,294.6C1627.7,295.7 1628.9,296.8 1630.1,298.0C1631.1,298.9 1632.1,299.8 1633.1,300.7C1634.5,302.0 1635.9,303.4 1637.3,304.8C1638.5,306.1 1639.7,307.3 1640.9,308.6C1641.6,309.4 1642.3,310.1 1643.0,310.9C1644.6,312.7 1646.2,314.6 1647.7,316.4C1648.8,317.8 1649.9,319.1 1650.9,320.5C1652.0,321.9 1653.0,323.3 1654.1,324.7C1654.9,325.9 1655.7,327.0 1656.6,328.2C1658.9,331.6 1661.0,335.0 1663.2,338.4C1665.3,341.8 1667.3,345.3 1669.3,348.9C1671.2,352.4 1673.1,356.0 1675.0,359.5C1676.8,363.1 1678.7,366.7 1680.5,370.3C1682.3,373.9 1684.1,377.5 1685.9,381.2C1687.7,384.8 1689.3,388.4 1690.7,392.2C1692.0,396.0 1693.1,399.9 1694.2,403.8C1695.3,407.7 1696.3,411.6 1697.5,415.5C1698.7,419.3 1700.0,423.2 1701.2,427.0C1702.5,430.9 1703.8,434.7 1705.0,438.5C1706.2,442.4 1707.4,446.2 1708.5,450.1C1709.6,454.0 1710.7,457.9 1711.7,461.8C1712.7,465.7 1713.7,469.6 1714.6,473.5C1715.6,477.4 1716.5,481.3 1717.3,485.3C1718.2,489.2 1719.0,493.2 1719.8,497.1C1720.6,501.1 1721.4,505.0 1722.1,509.0C1722.9,513.0 1723.6,516.9 1724.3,520.9C1725.0,524.9 1725.7,528.8 1726.3,532.8C1727.0,536.8 1727.6,540.8 1728.2,544.8C1728.9,548.8 1729.5,552.8 1730.1,556.8C1730.7,560.8 1731.3,564.8 1731.9,568.8C1732.5,572.7 1733.1,576.7 1733.7,580.7C1734.3,584.7 1734.9,588.7 1735.5,592.7C1736.1,596.7 1736.7,600.7 1737.3,604.7C1737.9,608.7 1738.4,612.7 1739.0,616.7C1739.6,620.7 1740.2,624.6 1740.8,628.6C1741.4,632.6 1742.0,636.6 1742.6,640.6C1743.1,644.6 1743.7,648.6 1744.3,652.6C1744.9,656.6 1745.4,660.6 1746.0,664.5C1746.6,668.5 1747.2,672.5 1747.7,676.5C1748.3,680.5 1748.8,684.5 1749.4,688.5C1749.9,692.5 1750.5,696.5 1751.0,700.5C1751.6,704.5 1752.1,708.5 1752.7,712.5C1753.2,716.5 1753.7,720.5 1754.2,724.4C1754.8,728.4 1755.3,732.4 1755.8,736.4C1756.3,740.4 1756.8,744.4 1757.3,748.4C1757.8,752.4 1758.3,756.4 1758.8,760.4C1759.3,764.5 1759.8,768.5 1760.3,772.5C1760.8,776.5 1761.3,780.5 1761.8,784.5C1762.2,788.5 1762.7,792.5 1763.2,796.5C1763.7,800.5 1764.2,804.5 1764.6,808.5C1765.1,812.5 1765.6,816.5 1766.0,820.5C1766.5,824.5 1767.0,828.6 1767.4,832.6C1767.9,836.6 1768.3,840.6 1768.8,844.6C1769.3,848.6 1769.7,852.6 1770.2,856.6C1770.6,860.6 1771.1,864.6 1771.5,868.7C1772.0,872.7 1772.4,876.7 1772.9,880.7C1773.3,884.7 1773.8,888.7 1774.2,892.7C1774.7,896.7 1775.1,900.7 1775.5,904.7C1776.0,908.8 1776.4,912.8 1776.9,916.8C1777.3,920.8 1777.8,924.8 1778.2,928.8C1778.7,932.8 1779.1,936.8 1779.5,940.9C1780.0,944.9 1780.4,948.9 1780.9,952.9C1781.3,956.9 1781.8,960.9 1782.2,964.9C1782.7,968.9 1783.1,972.9 1783.6,976.9C1784.0,981.0 1784.5,985.0 1784.9,989.0C1785.4,993.0 1785.8,997.0 1786.3,1001.0C1786.7,1005.0 1787.2,1009.0 1787.6,1013.0C1788.1,1017.0 1788.6,1021.0 1789.0,1025.0C1789.5,1029.1 1789.9,1033.1 1790.4,1037.1C1790.9,1041.1 1791.3,1045.1 1791.8,1049.1C1792.3,1053.1 1792.8,1057.1 1793.2,1061.1C1793.7,1065.1 1794.2,1069.1 1794.7,1073.1C1795.2,1077.1 1795.7,1081.1 1796.2,1085.1C1796.7,1089.1 1797.2,1093.1 1797.7,1097.1C1798.2,1101.1 1798.7,1105.1 1799.2,1109.1C1799.8,1113.1 1800.3,1117.1 1800.8,1121.1C1801.4,1125.1 1801.9,1129.1 1802.5,1133.1C1803.1,1137.0 1803.6,1141.0 1804.2,1145.0C1804.8,1149.0 1805.4,1153.0 1806.0,1157.0C1806.6,1161.0 1807.2,1165.0 1807.8,1168.9C1808.4,1172.9 1809.1,1176.9 1809.7,1180.9C1810.4,1184.9 1811.0,1188.9 1811.7,1192.9C1812.4,1196.8 1813.1,1200.8 1813.8,1204.8C1814.5,1208.8 1815.2,1212.7 1815.9,1216.7C1816.2,1218.4 1816.5,1220.0 1816.8,1221.6C1817.3,1224.0 1817.7,1226.3 1818.2,1228.6C1819.0,1232.6 1819.8,1236.6 1820.7,1240.5C1821.4,1244.0 1822.3,1247.4 1823.1,1250.8C1823.4,1251.9 1823.7,1253.0 1824.0,1254.1C1824.6,1256.2 1825.2,1258.3 1825.9,1260.3C1826.2,1261.5 1826.6,1262.7 1827.0,1263.8C1827.5,1265.4 1828.0,1267.0 1828.6,1268.5C1829.4,1270.7 1830.3,1272.9 1831.2,1275.1C1831.7,1276.4 1832.3,1277.6 1832.8,1278.9C1833.4,1280.1 1834.0,1281.3 1834.5,1282.5C1835.1,1283.7 1835.8,1284.9 1836.4,1286.1C1836.9,1287.0 1837.4,1287.9 1837.9,1288.8C1838.9,1290.4 1839.9,1291.9 1840.9,1293.4C1841.6,1294.4 1842.3,1295.4 1843.0,1296.3C1843.8,1297.3 1844.6,1298.2 1845.4,1299.1C1846.2,1300.1 1847.1,1301.0 1848.1,1301.9C1849.2,1303.0 1850.3,1304.0 1851.5,1304.9C1853.0,1306.0 1854.5,1307.0 1856.1,1307.9C1857.4,1308.6 1858.8,1309.3 1860.2,1309.9C1861.2,1310.4 1862.2,1310.8 1863.2,1311.1C1865.1,1311.8 1867.1,1312.4 1869.0,1312.9C1870.6,1313.3 1872.2,1313.7 1873.8,1314.0C1876.2,1314.5 1878.6,1314.8 1881.1,1315.2C1882.6,1315.4 1884.2,1315.6 1885.8,1315.8C1888.3,1316.2 1890.8,1316.5 1893.2,1316.8C1894.8,1317.1 1896.3,1317.3 1897.8,1317.5C1899.5,1317.7 1901.2,1318.0 1902.9,1318.2C1905.2,1318.6 1907.5,1318.9 1909.8,1319.3C1913.8,1319.9 1917.8,1320.5 1921.8,1321.1C1925.7,1321.7 1929.7,1322.3 1933.7,1322.9C1937.7,1323.5 1941.7,1324.1 1945.7,1324.7C1949.6,1325.3 1953.6,1325.9 1957.6,1326.4C1961.6,1326.9 1965.6,1327.4 1969.6,1327.9C1973.6,1328.4 1977.6,1328.9 1981.6,1329.3C1985.6,1329.7 1989.6,1330.1 1993.6,1330.5C1997.7,1330.9 2001.7,1331.3 2005.7,1331.6C2009.7,1331.9 2013.7,1332.3 2017.8,1332.6C2021.8,1332.9 2025.8,1333.2 2029.8,1333.4C2033.9,1333.7 2037.9,1334.0 2041.9,1334.2C2046.0,1334.4 2050.0,1334.6 2054.0,1334.9C2058.1,1335.1 2062.1,1335.3 2066.1,1335.4C2070.2,1335.6 2074.2,1335.8 2078.3,1336.0C2082.3,1336.1 2086.3,1336.3 2090.4,1336.4C2094.4,1336.5 2098.4,1336.7 2102.5,1336.8C2106.5,1336.9 2110.6,1337.0 2114.6,1337.2C2118.6,1337.3 2122.7,1337.4 2126.7,1337.5C2130.7,1337.6 2134.8,1337.7 2138.8,1337.8C2142.8,1337.9 2146.8,1338.0 2150.9,1338.1C2154.9,1338.2 2158.9,1338.3 2162.9,1338.4C2167.0,1338.5 2171.0,1338.6 2175.0,1338.7"/>
<path stroke="#f00" d="M302.0,1390.8C306.0,1390.8 310.0,1390.7 314.1,1390.6C318.1,1390.6 322.1,1390.5 326.1,1390.5C330.2,1390.4 334.2,1390.4 338.2,1390.3C342.2,1390.2 346.2,1390.1 350.3,1390.1C354.3,1390.0 358.3,1389.9 362.3,1389.8C366.4,1389.8 370.4,1389.7 374.4,1389.6C378.4,1389.5 382.4,1389.4 386.5,1389.3C390.5,1389.2 394.5,1389.1 398.5,1389.0C402.5,1388.9 406.6,1388.8 410.6,1388.7C414.6,1388.6 418.6,1388.5 422.7,1388.4C426.7,1388.3 430.7,1388.2 434.7,1388.1C438.7,1388.0 442.8,1387.9 446.8,1387.8C450.8,1387.6 454.8,1387.5 458.8,1387.4C462.9,1387.3 466.9,1387.2 470.9,1387.0C474.9,1386.9 478.9,1386.8 483.0,1386.7C487.0,1386.5 491.0,1386.4 495.0,1386.3C499.1,1386.2 503.1,1386.0 507.1,1385.9C511.1,1385.8 515.1,1385.6 519.2,1385.5C523.2,1385.4 527.2,1385.2 531.2,1385.1C535.2,1385.0 539.3,1384.8 543.3,1384.7C547.3,1384.5 551.3,1384.4 555.3,1384.3C559.4,1384.1 563.4,1384.0 567.4,1383.8C571.4,1383.7 575.4,1383.6 579.5,1383.4C583.5,1383.3 587.5,1383.1 591.5,1383.0C595.5,1382.9 599.6,1382.7 603.6,1382.6C607.6,1382.4 611.6,1382.3 615.6,1382.1C619.7,1382.0 623.7,1381.9 627.7,1381.7C631.7,1381.6 635.7,1381.4 639.8,1381.3C643.8,1381.2 647.8,1381.0 651.8,1380.9C655.9,1380.7 659.9,1380.6 663.9,1380.5C667.9,1380.3 671.9,1380.2 675.9,1380.0C680.0,1379.9 684.0,1379.8 688.0,1379.6C692.0,1379.5 696.1,1379.4 700.1,1379.2C704.1,1379.1 708.1,1379.0 712.1,1378.8C716.2,1378.7 720.2,1378.6 724.2,1378.5C728.2,1378.3 732.2,1378.2 736.3,1378.1C740.3,1378.0 744.3,1377.8 748.3,1377.7C752.3,1377.6 756.4,1377.5 760.4,1377.3C764.4,1377.2 768.4,1377.1 772.5,1377.0C776.5,1376.9 780.5,1376.8 784.5,1376.7C788.5,1376.6 792.6,1376.5 796.6,1376.3C800.6,1376.2 804.6,1376.1 808.6,1376.0C812.7,1375.9 816.7,1375.8 820.7,1375.8C824.7,1375.7 828.7,1375.6 832.8,1375.5C836.8,1375.4 840.8,1375.3 844.8,1375.2C848.8,1375.1 852.9,1375.1 856.9,1375.0C860.9,1374.9 864.9,1374.8 869.0,1374.8C873.0,1374.7 877.0,1374.6 881.0,1374.6C885.0,1374.5 889.1,1374.4 893.1,1374.4C897.1,1374.3 901.1,1374.3 905.2,1374.2C909.2,1374.2 913.2,1374.2 917.2,1374.2C921.2,1374.1 925.3,1374.1 929.3,1374.2C933.3,1374.2 937.3,1374.2 941.4,1374.2C945.4,1374.3 949.4,1374.3 953.4,1374.4C957.4,1374.5 961.4,1374.6 965.5,1374.7C969.5,1374.9 973.5,1375.0 977.5,1375.2C981.5,1375.4 985.6,1375.6 989.6,1375.8C993.6,1376.1 997.6,1376.3 1001.6,1376.6C1005.6,1376.9 1009.6,1377.2 1013.7,1377.5C1017.7,1377.8 1021.7,1378.1 1025.7,1378.5C1029.7,1378.8 1033.7,1379.2 1037.7,1379.5C1041.7,1379.9 1045.8,1380.2 1049.8,1380.6C1053.8,1380.9 1057.8,1381.3 1061.8,1381.6C1065.8,1381.9 1069.8,1382.3 1073.8,1382.6C1077.9,1382.9 1081.9,1383.2 1085.9,1383.5C1089.9,1383.7 1093.9,1384.0 1097.9,1384.2C1101.9,1384.4 1105.9,1384.7 1110.0,1384.8C1114.0,1385.0 1118.0,1385.2 1122.0,1385.4C1126.0,1385.5 1130.0,1385.7 1134.0,1385.8C1138.1,1385.9 1142.1,1386.0 1146.1,1386.1C1150.1,1386.2 1154.1,1386.3 1158.2,1386.4C1162.2,1386.5 1166.2,1386.6 1170.2,1386.6C1174.2,1386.7 1178.3,1386.8 1182.3,1386.8C1186.3,1386.9 1190.3,1387.0 1194.4,1387.0C1198.4,1387.1 1202.4,1387.1 1206.4,1387.2C1210.5,1387.2 1214.5,1387.3 1218.5,1387.3C1222.6,1387.3 1226.6,1387.3 1230.6,1387.4C1234.6,1387.4 1238.7,1387.4 1242.7,1387.3C1246.7,1387.3 1250.7,1387.3 1254.8,1387.2C1258.8,1387.1 1262.8,1387.0 1266.8,1386.9C1270.8,1386.8 1274.9,1386.6 1278.9,1386.4C1282.9,1386.2 1286.9,1386.0 1290.9,1385.8C1294.9,1385.5 1298.9,1385.2 1302.9,1384.8C1306.9,1384.5 1310.9,1384.1 1314.9,1383.7C1318.9,1383.2 1322.9,1382.7 1326.9,1382.2C1330.8,1381.6 1334.8,1381.0 1338.8,1380.4C1342.8,1379.7 1346.7,1379.0 1350.7,1378.2C1354.7,1377.4 1358.6,1376.5 1362.6,1375.6C1366.5,1374.6 1370.4,1373.6 1374.3,1372.5C1378.2,1371.4 1382.0,1370.2 1385.8,1368.9C1389.5,1367.6 1393.3,1366.3 1397.1,1365.0C1399.6,1364.2 1402.1,1363.3 1404.6,1362.6C1405.9,1362.1 1407.2,1361.8 1408.5,1361.4C1410.1,1360.9 1411.7,1360.4 1413.3,1360.0C1415.6,1359.4 1417.9,1358.8 1420.2,1358.2C1423.7,1357.2 1427.3,1356.3 1430.8,1355.3C1433.9,1354.5 1436.9,1353.7 1439.9,1352.8C1441.1,1352.4 1442.4,1352.0 1443.6,1351.6C1445.3,1351.1 1446.9,1350.5 1448.6,1350.0C1450.7,1349.2 1452.9,1348.4 1455.0,1347.6C1456.1,1347.1 1457.2,1346.6 1458.3,1346.1C1460.8,1345.0 1463.3,1343.8 1465.8,1342.5C1468.6,1341.0 1471.4,1339.4 1474.1,1337.7C1476.9,1336.0 1479.6,1334.2 1482.2,1332.3C1483.5,1331.4 1484.8,1330.4 1486.0,1329.4C1487.3,1328.4 1488.6,1327.4 1489.8,1326.3C1491.7,1324.8 1493.5,1323.2 1495.3,1321.6C1496.1,1320.9 1496.9,1320.1 1497.8,1319.3C1499.9,1317.3 1501.9,1315.2 1503.9,1313.1C1506.1,1310.9 1508.1,1308.6 1510.1,1306.3C1512.1,1304.0 1514.0,1301.6 1515.8,1299.3C1517.1,1297.7 1518.3,1296.1 1519.5,1294.4C1520.1,1293.6 1520.6,1292.8 1521.2,1292.0C1523.0,1289.5 1524.6,1287.1 1526.3,1284.5C1527.9,1282.0 1529.4,1279.5 1531.0,1276.9C1531.5,1276.0 1532.0,1275.1 1532.5,1274.3C1533.5,1272.6 1534.5,1270.9 1535.4,1269.2C1536.4,1267.4 1537.4,1265.6 1538.3,1263.7C1540.2,1260.2 1542.0,1256.6 1543.8,1253.0C1545.6,1249.4 1547.4,1245.8 1549.1,1242.1C1550.8,1238.5 1552.5,1234.8 1554.2,1231.1C1555.8,1227.4 1557.4,1223.7 1558.8,1219.9C1560.2,1216.2 1561.5,1212.4 1562.7,1208.5C1564.0,1204.7 1565.1,1200.9 1566.2,1197.0C1567.3,1193.1 1568.3,1189.2 1569.3,1185.3C1570.3,1181.4 1571.3,1177.5 1572.3,1173.6C1573.3,1169.7 1574.3,1165.9 1575.3,1162.0C1576.3,1158.1 1577.3,1154.2 1578.3,1150.3C1579.3,1146.3 1580.3,1142.4 1581.2,1138.5C1582.2,1134.6 1583.2,1130.7 1584.2,1126.8C1585.1,1122.9 1586.1,1119.0 1587.0,1115.1C1587.9,1111.2 1588.9,1107.3 1589.8,1103.4C1590.7,1099.4 1591.6,1095.5 1592.5,1091.6C1593.4,1087.7 1594.3,1083.8 1595.1,1079.8C1596.0,1075.9 1596.8,1072.0 1597.7,1068.0C1598.5,1064.1 1599.3,1060.2 1600.1,1056.2C1600.9,1052.3 1601.7,1048.4 1602.5,1044.4C1603.3,1040.5 1604.1,1036.5 1604.9,1032.6C1605.6,1028.6 1606.4,1024.7 1607.1,1020.7C1607.9,1016.8 1608.6,1012.8 1609.4,1008.9C1610.1,1004.9 1610.9,1001.0 1611.6,997.0C1612.3,993.0 1613.0,989.1 1613.8,985.1C1614.5,981.2 1615.2,977.2 1615.9,973.3C1616.6,969.3 1617.3,965.3 1618.0,961.4C1618.7,957.4 1619.4,953.4 1620.1,949.5C1620.8,945.5 1621.5,941.6 1622.2,937.6C1622.9,933.6 1623.6,929.7 1624.3,925.7C1625.0,921.7 1625.7,917.8 1626.4,913.8C1627.1,909.9 1627.8,905.9 1628.5,901.9C1629.2,898.0 1629.9,894.0 1630.7,890.1C1631.4,886.1 1632.1,882.1 1632.8,878.2C1633.5,874.2 1634.3,870.3 1635.0,866.3C1635.7,862.4 1636.5,858.4 1637.2,854.5C1638.0,850.5 1638.7,846.6 1639.5,842.6C1640.2,838.7 1641.0,834.7 1641.8,830.8C1642.6,826.8 1643.4,822.9 1644.2,818.9C1645.0,815.0 1645.8,811.1 1646.6,807.1C1647.4,803.2 1648.3,799.3 1649.1,795.3C1650.0,791.4 1650.8,787.5 1651.7,783.5C1652.6,779.6 1653.4,775.7 1654.4,771.8C1655.3,767.8 1656.2,763.9 1657.1,760.0C1658.0,756.4 1658.9,752.7 1660.2,749.2C1660.6,747.9 1661.1,746.7 1661.6,745.4C1662.2,744.1 1662.7,742.9 1663.2,741.6C1663.8,740.4 1664.3,739.1 1664.8,737.9C1665.4,736.6 1665.9,735.4 1666.4,734.1C1666.8,733.0 1667.3,731.8 1667.9,730.7C1668.4,729.7 1669.0,728.7 1669.7,727.6C1670.3,726.6 1671.1,725.6 1672.0,724.7C1672.9,723.8 1673.9,723.0 1674.9,722.4C1675.7,721.9 1676.7,721.6 1677.6,721.6C1678.6,721.6 1679.6,722.0 1680.6,722.6C1682.1,723.6 1683.4,725.1 1684.6,726.7C1685.9,728.5 1687.0,730.4 1687.8,732.3C1688.6,734.2 1689.3,736.1 1689.9,738.0C1690.4,740.0 1690.8,741.9 1691.3,743.9C1691.6,745.7 1692.0,747.5 1692.4,749.3C1692.9,751.5 1693.4,753.6 1694.0,755.7C1694.5,757.7 1695.0,759.6 1695.5,761.6C1696.0,763.7 1696.5,765.7 1696.9,767.8C1697.8,771.8 1698.6,775.7 1699.3,779.7C1700.0,783.6 1700.6,787.6 1701.1,791.6C1701.7,795.6 1702.2,799.5 1702.7,803.5C1703.2,807.5 1703.6,811.5 1704.0,815.5C1704.5,819.5 1704.9,823.5 1705.4,827.6C1705.8,831.6 1706.2,835.6 1706.7,839.6C1707.1,843.6 1707.6,847.6 1708.1,851.5C1708.5,855.5 1709.0,859.5 1709.4,863.5C1709.9,867.5 1710.4,871.5 1710.8,875.5C1711.3,879.5 1711.7,883.5 1712.2,887.5C1712.7,891.5 1713.1,895.5 1713.6,899.5C1714.0,903.5 1714.5,907.5 1714.9,911.5C1715.4,915.5 1715.8,919.5 1716.3,923.5C1716.7,927.5 1717.2,931.5 1717.6,935.4C1718.1,939.4 1718.5,943.4 1719.0,947.4C1719.4,951.4 1719.9,955.4 1720.3,959.4C1720.7,963.4 1721.2,967.4 1721.6,971.4C1722.0,975.4 1722.5,979.4 1722.9,983.4C1723.3,987.4 1723.8,991.4 1724.2,995.4C1724.6,999.4 1725.0,1003.4 1725.4,1007.4C1725.9,1011.4 1726.3,1015.4 1726.7,1019.4C1727.1,1023.4 1727.5,1027.4 1727.9,1031.4C1728.3,1035.4 1728.7,1039.4 1729.1,1043.4C1729.5,1047.4 1729.9,1051.4 1730.3,1055.4C1730.7,1059.5 1731.1,1063.5 1731.5,1067.5C1731.9,1071.5 1732.3,1075.5 1732.6,1079.5C1733.0,1083.5 1733.4,1087.5 1733.8,1091.5C1734.2,1095.5 1734.6,1099.5 1735.0,1103.5C1735.4,1107.5 1735.8,1111.5 1736.2,1115.5C1736.6,1119.5 1737.0,1123.5 1737.4,1127.5C1737.8,1131.5 1738.2,1135.5 1738.6,1139.5C1739.1,1143.5 1739.5,1147.5 1739.9,1151.5C1740.4,1155.5 1740.8,1159.5 1741.3,1163.5C1741.8,1167.5 1742.2,1171.5 1742.7,1175.5C1743.2,1179.5 1743.7,1183.5 1744.2,1187.5C1744.7,1191.5 1745.2,1195.5 1745.7,1199.4C1746.3,1203.4 1746.8,1207.4 1747.4,1211.4C1748.0,1215.4 1748.5,1219.4 1749.1,1223.3C1749.7,1227.3 1750.3,1231.3 1751.0,1235.3C1751.6,1239.2 1752.3,1243.2 1752.9,1247.2C1753.6,1251.1 1754.3,1255.1 1755.0,1259.0C1755.7,1263.0 1756.5,1267.0 1757.2,1270.9C1758.0,1274.9 1758.8,1278.8 1759.6,1282.8C1760.4,1286.7 1761.2,1290.6 1762.1,1294.6C1762.4,1295.7 1762.6,1296.9 1762.9,1298.0C1763.5,1300.8 1764.2,1303.6 1764.9,1306.3C1765.7,1309.7 1766.6,1313.2 1767.4,1316.6C1768.3,1319.6 1769.1,1322.7 1769.9,1325.8C1770.3,1327.0 1770.6,1328.2 1771.0,1329.4C1771.5,1331.2 1772.0,1333.1 1772.6,1334.9C1773.2,1337.0 1773.9,1339.1 1774.6,1341.2C1774.9,1342.1 1775.2,1343.1 1775.5,1344.0C1776.2,1346.2 1777.0,1348.3 1777.8,1350.4C1778.7,1352.7 1779.6,1355.0 1780.6,1357.3C1781.4,1359.1 1782.2,1360.8 1783.1,1362.6C1784.0,1364.1 1784.8,1365.6 1785.8,1367.1C1786.5,1368.1 1787.2,1369.1 1788.0,1370.0C1788.9,1371.1 1789.9,1372.2 1790.9,1373.2C1791.9,1374.2 1793.0,1375.1 1794.2,1375.9C1795.1,1376.6 1796.2,1377.3 1797.2,1377.8C1798.5,1378.5 1799.8,1379.0 1801.2,1379.4C1802.7,1379.9 1804.3,1380.3 1805.9,1380.6C1807.3,1380.8 1808.6,1381.0 1810.0,1381.2C1811.0,1381.3 1812.1,1381.4 1813.2,1381.5C1814.3,1381.6 1815.5,1381.7 1816.6,1381.8C1818.8,1381.9 1821.0,1382.0 1823.2,1382.1C1824.7,1382.1 1826.2,1382.1 1827.7,1382.1C1830.6,1382.2 1833.5,1382.2 1836.4,1382.3C1839.3,1382.4 1842.2,1382.5 1845.1,1382.6C1846.5,1382.7 1847.9,1382.8 1849.3,1382.9C1850.8,1383.0 1852.3,1383.0 1853.9,1383.1C1856.4,1383.3 1858.9,1383.5 1861.4,1383.6C1865.4,1383.9 1869.4,1384.1 1873.4,1384.4C1877.4,1384.6 1881.4,1384.8 1885.5,1385.1C1889.5,1385.3 1893.5,1385.5 1897.5,1385.7C1901.5,1385.9 1905.6,1386.1 1909.6,1386.3C1913.6,1386.5 1917.6,1386.7 1921.6,1386.8C1925.7,1387.0 1929.7,1387.2 1933.7,1387.3C1937.7,1387.5 1941.7,1387.7 1945.7,1387.8C1949.8,1387.9 1953.8,1388.1 1957.8,1388.2C1961.8,1388.3 1965.8,1388.5 1969.9,1388.6C1973.9,1388.7 1977.9,1388.8 1981.9,1388.9C1986.0,1389.0 1990.0,1389.1 1994.0,1389.2C1998.0,1389.3 2002.0,1389.4 2006.1,1389.5C2010.1,1389.6 2014.1,1389.7 2018.1,1389.7C2022.1,1389.8 2026.2,1389.9 2030.2,1389.9C2034.2,1390.0 2038.2,1390.1 2042.3,1390.1C2046.3,1390.2 2050.3,1390.2 2054.3,1390.3C2058.3,1390.3 2062.4,1390.4 2066.4,1390.4C2070.4,1390.5 2074.4,1390.5 2078.5,1390.5C2082.5,1390.6 2086.5,1390.6 2090.5,1390.6C2094.5,1390.7 2098.6,1390.7 2102.6,1390.7C2106.6,1390.7 2110.6,1390.8 2114.7,1390.8C2118.7,1390.8 2122.7,1390.8 2126.7,1390.8C2130.7,1390.9 2134.8,1390.9 2138.8,1390.9C2142.8,1390.9 2146.8,1390.9 2150.9,1390.9C2154.9,1390.9 2158.9,1391.0 2162.9,1391.0C2167.0,1391.0 2171.0,1391.0 2175.0,1391.0"/>
</g>
<g stroke="#000" fill="#000" stroke-width="11" stroke-linejoin="round" stroke-linecap="round" shape-rendering="crispEdges">
<path d="M1724.6,523.5 H1500"/>
<path d="M1468.4,523.4 L1520.6,510.3 L1506.6,523.4 L1520.6,536.4 Z"/>
<path d="M1532.8,1331.6 H1720"/>
<path d="M1749.5,1332.5 L1697.4,1319.5 L1711.4,1332.5 L1697.4,1345.5 Z"/>
</g>
<g fill="none" stroke-width="8" stroke-linecap="round" shape-rendering="crispEdges">
<path stroke="#000" d="M345.8,594 H535.8"/>
<path stroke="#f00" d="M345.8,699 H535.8"/>
</g>
<text class="ti" x="557.5" y="622.6" font-size="87" letter-spacing="-1.05">Compound</text>
<text class="ti" x="557.5" y="727.0" font-size="87" letter-spacing="-1.0">Reactive Extrusion</text>
<text class="tk" transform="translate(301.2,1564.6) scale(0.972,1)" font-size="82" letter-spacing="-2.2" text-anchor="middle">100</text>
<text class="tk" transform="translate(675.9,1564.6) scale(0.972,1)" font-size="82" letter-spacing="-2.2" text-anchor="middle">200</text>
<text class="tk" transform="translate(1050.5,1564.6) scale(0.972,1)" font-size="82" letter-spacing="-2.2" text-anchor="middle">300</text>
<text class="tk" transform="translate(1425.2,1564.6) scale(0.972,1)" font-size="82" letter-spacing="-2.2" text-anchor="middle">400</text>
<text class="tk" transform="translate(1799.8,1564.6) scale(0.972,1)" font-size="82" letter-spacing="-2.2" text-anchor="middle">500</text>
<text class="tk" transform="translate(2174.5,1564.6) scale(0.972,1)" font-size="82" letter-spacing="-2.2" text-anchor="middle">600</text>
<text class="tk" transform="translate(243.0,1466.3) scale(0.972,1)" font-size="82" letter-spacing="-2.2" text-anchor="end">0</text>
<text class="tk" transform="translate(243.0,1201.1) scale(0.972,1)" font-size="82" letter-spacing="-2.2" text-anchor="end">20</text>
<text class="tk" transform="translate(243.0,935.9) scale(0.972,1)" font-size="82" letter-spacing="-2.2" text-anchor="end">40</text>
<text class="tk" transform="translate(243.0,670.7) scale(0.972,1)" font-size="82" letter-spacing="-2.2" text-anchor="end">60</text>
<text class="tk" transform="translate(243.0,405.5) scale(0.972,1)" font-size="82" letter-spacing="-2.2" text-anchor="end">80</text>
<text class="tk" transform="translate(243.0,140.3) scale(0.972,1)" font-size="82" letter-spacing="-2.2" text-anchor="end">100</text>
<text class="tk" x="2235.5" y="1408.1" font-size="64">0</text>
<text class="tk" x="2235.5" y="1140.4" font-size="64">1</text>
<text class="tk" x="2235.5" y="872.7" font-size="64">2</text>
<text class="tk" x="2235.5" y="605.0" font-size="64">3</text>
<text class="tk" x="2235.5" y="337.3" font-size="64">4</text>
<text class="tk" x="2235.5" y="69.6" font-size="64">5</text>
<text class="ti" x="903.5" y="1672" font-size="110" letter-spacing="-0.6">Temperature (<tspan font-size="70" dy="-50">o</tspan><tspan dy="50">C)</tspan></text>
<text class="ti" transform="translate(114.5,1159.5) rotate(-90)" font-size="112" letter-spacing="0.2">Weight percent (%)</text>
<text class="ti" transform="translate(2358.5,1269) rotate(-90)" font-size="112" letter-spacing="0.1">Deriv.weight (%/<tspan font-size="74" dy="-60">o</tspan><tspan dy="60">C)</tspan></text>
</svg></body></html>
